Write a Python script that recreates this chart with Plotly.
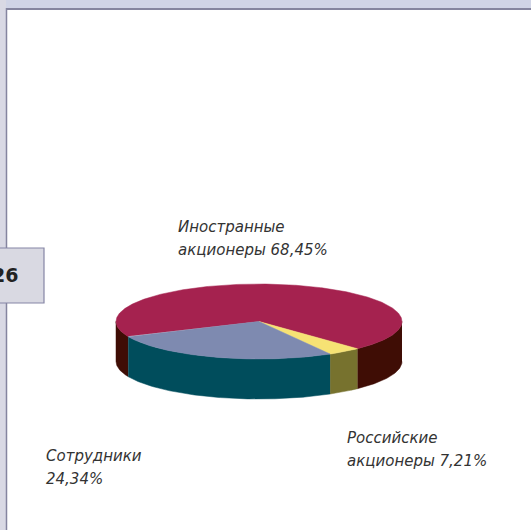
import numpy as np
import plotly.graph_objects as go

# Wedge sizes measured from the drawn picture (%); the printed captions differ slightly,
# as they do in the reference artwork.
categories = ["Иностранные акционеры", "Российские акционеры", "Сотрудники"]
drawn_shares = [69.6, 3.8, 26.6]
caption_lines = [["Иностранные", "акционеры 68,45%"], ["Российские", "акционеры 7,21%"], ["Сотрудники", "24,34%"]]
caption_pos = [(176, 227), (345, 438), (44, 456)]
top_colors = ["#a5224f", "#f6e274", "#7e8ab0"]
wall_colors = ["#3f0d05", "#77722e", "#004d5c"]
page_number = "26"

CX, CY, RX, RY, DEPTH = 259, 321.5, 143, 37.5, 40
START = 46.5 + 360 - drawn_shares[0] * 3.6  # angle where the first wedge begins


def arc(a0, a1, dy=0.0):
    t = np.radians(np.linspace(a0, a1, max(int(abs(a1 - a0)) * 2, 2)))
    return CX + RX * np.cos(t), CY + dy + RY * np.sin(t)


fig = go.Figure()
edges = START + np.concatenate([[0], np.cumsum(drawn_shares)]) * 3.6


def poly(x, y, color):
    fig.add_trace(go.Scatter(x=x, y=y, mode="lines", fill="toself", fillcolor=color,
                             line=dict(color=color, width=0.5), hoverinfo="skip", showlegend=False))


# side walls: only the front half (0..180 degrees, modulo 360) is visible
for i in range(3):
    a0, a1 = edges[i], edges[i + 1]
    for k in (-360, 0, 360):
        lo, hi = max(a0 + k, 0), min(a1 + k, 180)
        if hi > lo:
            x1, y1 = arc(lo, hi)
            x2, y2 = arc(hi, lo, DEPTH)
            poly(np.r_[x1, x2], np.r_[y1, y2], wall_colors[i])

# top faces
for i in range(3):
    x, y = arc(edges[i], edges[i + 1])
    poly(np.r_[CX, x, CX], np.r_[CY, y, CY], top_colors[i])

shapes = [
    dict(type="rect", x0=0, x1=531, y0=0, y1=8, fillcolor="#d0d4e6", line_width=0, layer="below"),
    dict(type="rect", x0=0, x1=6, y0=0, y1=530, fillcolor="#d9d9e4", line_width=0, layer="below"),
    dict(type="line", x0=6.5, x1=6.5, y0=8, y1=530, line=dict(color="#85859f", width=1.5), layer="below"),
    dict(type="line", x0=6, x1=531, y0=9, y1=9, line=dict(color="#85859f", width=2), layer="below"),
    dict(type="rect", x0=-3, x1=44, y0=248, y1=303, fillcolor="#d9d9e2",
         line=dict(color="#8585a5", width=1.2), layer="below"),
]

annotations = [dict(x=20, y=275, text=f"<b>{page_number}</b>", showarrow=False, xanchor="right", yanchor="middle",
                    font=dict(family="DejaVu Sans", size=19, color="#222222"))]
for lines, (px, py) in zip(caption_lines, caption_pos):
    for j, line in enumerate(lines):
        annotations.append(dict(x=px, y=py + j * 23, text=f"<i>{line}</i>", showarrow=False,
                                xanchor="left", yanchor="middle",
                                font=dict(family="DejaVu Sans", size=15, color="#333333")))

fig.update_layout(
    width=531, height=530, margin=dict(l=0, r=0, t=0, b=0),
    paper_bgcolor="white", plot_bgcolor="white", showlegend=False,
    xaxis=dict(range=[0, 531], visible=False, fixedrange=True),
    yaxis=dict(range=[530, 0], visible=False, fixedrange=True),
    shapes=shapes, annotations=annotations,
)
fig.write_html("out.html", config=dict(displayModeBar=False),
               post_script="document.body.style.margin='0';document.body.style.overflow='hidden';")
